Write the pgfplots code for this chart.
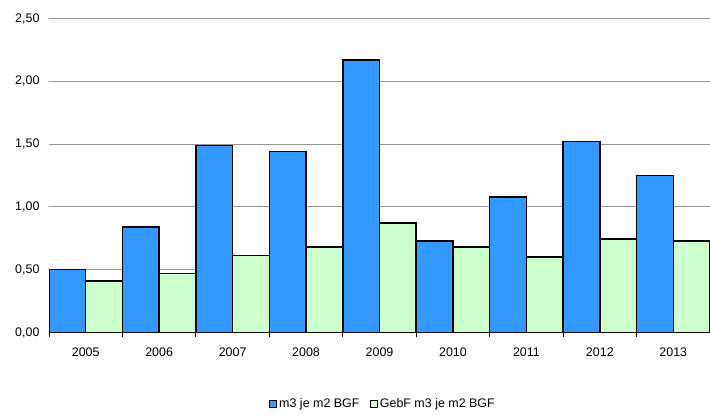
\documentclass[border=0pt]{standalone}
\usepackage{pgfplots}
\pgfplotsset{compat=1.18}
\usepackage{fontspec}
\setmainfont{Liberation Sans}
\definecolor{barblue}{RGB}{51,153,255}
\definecolor{bargreen}{RGB}{204,255,204}
\definecolor{gridgray}{RGB}{150,150,150}
\begin{document}
\begin{tikzpicture}
\path[use as bounding box] (-49bp,-82.5bp) rectangle (661bp,332.5bp);
\begin{axis}[
  at={(0,0)}, anchor=south west,
  scale only axis, width=661bp, height=314bp,
  xmin=-0.5, xmax=8.5, ymin=0, ymax=2.5,
  ybar, bar width=0.5,
  xtick={0,1,2,3,4,5,6,7,8},
  xticklabels={2005,2006,2007,2008,2009,2010,2011,2012,2013},
  minor xtick={-0.5,0.5,1.5,2.5,3.5,4.5,5.5,6.5,7.5,8.5},
  major tick length=0pt,
  minor tick length=4bp,
  tick align=outside,
  tick pos=bottom,
  minor x tick style={black, line width=0.8bp},
  ytick={0,0.5,1,1.5,2,2.5},
  ymajorgrids,
  major grid style={gridgray, line width=0.9bp},
  axis x line*=bottom,
  axis y line*=left,
  x axis line style={black, line width=1.6bp, -},
  y axis line style={draw=none},
  tick label style={font=\fontsize{12.5}{15}\selectfont, black},
  y tick label style={xshift=-6bp, /pgf/number format/fixed, /pgf/number format/fixed zerofill, /pgf/number format/precision=2, /pgf/number format/use comma, /pgf/number format/assume math mode=true},
  x tick label style={yshift=-12bp},
  legend style={at={(0.505,-0.228)}, anchor=center, draw=none, fill=none,
    font=\fontsize{12.5}{14}\selectfont,
    /tikz/every even column/.append style={column sep=8bp}},
  legend columns=2,
  legend image code/.code={\draw[#1,line width=0.9bp] (0bp,-3.8bp) rectangle (7.5bp,3.8bp);},
]
\addplot[fill=barblue, draw=black, line width=1.5bp, bar shift=-0.25] coordinates {
(0,0.50) (1,0.84) (2,1.49) (3,1.44) (4,2.17) (5,0.73) (6,1.08) (7,1.52) (8,1.25)};
\addlegendentry{m3 je m2 BGF}
\addplot[fill=bargreen, draw=black, line width=1.5bp, bar shift=0.25] coordinates {
(0,0.41) (1,0.47) (2,0.615) (3,0.68) (4,0.87) (5,0.68) (6,0.60) (7,0.745) (8,0.73)};
\addlegendentry{GebF m3 je m2 BGF}
\end{axis}
\end{tikzpicture}
\end{document}
